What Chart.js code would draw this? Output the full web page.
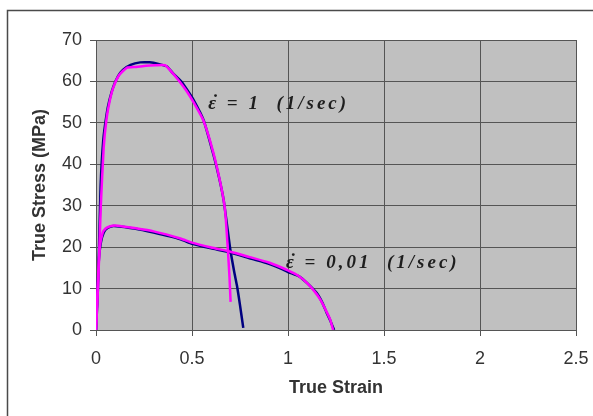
<!DOCTYPE html>
<html>
<head>
<meta charset="utf-8">
<script src="https://cdn.jsdelivr.net/npm/chart.js@4.4.1/dist/chart.umd.min.js"></script>
<style>
  html, body { margin: 0; padding: 0; background: #fff; }
  #wrap { width: 593px; height: 416px; }
</style>
</head>
<body>
<div id="wrap"><canvas id="stress-strain"></canvas></div>
<script>
// rate 1 (1/sec), measured (blue) and model (magenta)
var fastStrainBlue = [0, 0.01, 0.024, 0.038, 0.056, 0.07, 0.09, 0.115, 0.14, 0.18, 0.23, 0.28, 0.32, 0.37, 0.40, 0.44, 0.47, 0.51, 0.56, 0.61, 0.64, 0.665, 0.70, 0.72, 0.735, 0.75, 0.767];
var fastStressBlue = [0, 10, 34.6, 45.9, 52.3, 55.5, 58.7, 61.3, 62.8, 64, 64.6, 64.6, 64.3, 63.6, 62, 60.2, 58.3, 55.4, 50.7, 42.6, 37, 31.3, 19.3, 14, 10.5, 6, 0.5];
var fastStrainPink = [0, 0.012, 0.025, 0.04, 0.055, 0.07, 0.09, 0.12, 0.16, 0.21, 0.26, 0.31, 0.36, 0.39, 0.43, 0.47, 0.51, 0.56, 0.61, 0.65, 0.672, 0.686, 0.695, 0.701];
var fastStressPink = [0, 12, 30, 44, 51, 55, 58.5, 61.5, 63.3, 63.5, 63.8, 63.9, 63.9, 62.5, 60.3, 57.8, 54.8, 50.5, 43, 35, 29, 20, 13, 6.8];

// rate 0,01 (1/sec)
var slowStrainBlue = [0, 0.008, 0.015, 0.025, 0.04, 0.06, 0.09, 0.12, 0.2, 0.3, 0.44, 0.5, 0.6, 0.7, 0.8, 0.9, 0.96, 1.0, 1.06, 1.1, 1.15, 1.18, 1.2, 1.22, 1.24];
var slowStressBlue = [0, 10, 17, 21, 23.5, 24.6, 25.1, 25, 24.5, 23.5, 21.9, 20.8, 19.7, 18.7, 17.3, 16, 14.9, 14, 12.9, 11.3, 8.9, 6.5, 4.3, 2.3, 0];
var slowStrainPink = [0, 0.01, 0.02, 0.035, 0.05, 0.07, 0.1, 0.14, 0.2, 0.3, 0.44, 0.5, 0.6, 0.7, 0.8, 0.9, 0.96, 1.0, 1.05, 1.1, 1.14, 1.17, 1.2, 1.22, 1.235];
var slowStressPink = [0, 12, 20, 23.5, 24.5, 25, 25.2, 25, 24.6, 23.8, 22.1, 21.1, 19.9, 18.9, 17.6, 16.3, 15.2, 14.4, 13.2, 11.3, 9.2, 7.2, 4.5, 2.5, 0];

var xTicks = [0, 0.5, 1, 1.5, 2, 2.5];
var xTickText = ['0', '0.5', '1', '1.5', '2', '2.5'];
var yTicks = [0, 10, 20, 30, 40, 50, 60, 70];

var rateLabels = ['\u03B5 = 1  (1/sec)', '\u03B5 = 0,01  (1/sec)'];
var rateLabelAt = [[0.585, 54.5], [0.99, 16.2]];

function pts(xs, ys) {
	var out = [];
	for (var i in xs) out.push({x: xs[i], y: ys[i]});
	return out;
}

var AXIS_FONT = 'Liberation Sans, Arial, sans-serif';

var plotBack = {
	id: 'plotBack',
	beforeDraw: function(chart) {
		var c = chart.ctx, a = chart.chartArea;
		c.save();
		c.fillStyle = '#c0c0c0';
		c.fillRect(a.left, a.top, a.right - a.left, a.bottom - a.top);
		c.strokeStyle = '#4a4a4a';
		c.lineWidth = 1.5;
		c.strokeRect(7.5, 10.5, 800, 800);
		c.restore();
	},
	afterDatasetsDraw: function(chart) {
		var c = chart.ctx, sx = chart.scales.x, sy = chart.scales.y;
		c.save();
		c.font = 'italic bold 19px "Liberation Serif", "Times New Roman", serif';
		c.fillStyle = '#1e1e1e';
		c.textBaseline = 'middle';
		for (var i in rateLabels) {
			var px = sx.getPixelForValue(rateLabelAt[i][0]);
			var py = sy.getPixelForValue(rateLabelAt[i][1]);
			c.textAlign = 'left';
			c.letterSpacing = '3px';
			c.fillText(rateLabels[i], px, py);
			// dot over epsilon (strain rate)
			c.letterSpacing = '0px';
			c.textAlign = 'center';
			c.fillText('\u02D9', px + 6, py - 1);
		}
		c.restore();
	}
};

var line = function(data, color, order) {
	return {
		data: data,
		borderColor: color,
		backgroundColor: color,
		borderWidth: 2.5,
		showLine: true,
		pointRadius: 0,
		tension: 0.15,
		fill: false,
		order: order
	};
};

new Chart(document.getElementById('stress-strain'), {
	type: 'scatter',
	data: {
		datasets: [
			line(pts(fastStrainPink, fastStressPink), '#ff00ff', 0),
			line(pts(slowStrainPink, slowStressPink), '#ff00ff', 0),
			line(pts(fastStrainBlue, fastStressBlue), '#000080', 1),
			line(pts(slowStrainBlue, slowStressBlue), '#000080', 1)
		]
	},
	options: {
		responsive: true,
		maintainAspectRatio: false,
		animation: false,
		layout: { padding: { left: 12, top: 40, right: 17, bottom: 17 } },
		plugins: { legend: { display: false }, tooltip: { enabled: false } },
		scales: {
			x: {
				type: 'linear',
				min: xTicks[0],
				max: xTicks[xTicks.length - 1],
				afterBuildTicks: function(s) { s.ticks = xTicks.map(function(v) { return {value: v}; }); },
				afterFit: function(s) { s.height = 69; s.paddingLeft = 0; s.paddingRight = 0; },
				grid: { color: '#555', tickColor: '#555', tickLength: 6, lineWidth: 1 },
				border: { color: '#555', width: 1 },
				ticks: {
					color: '#333', padding: 12, maxRotation: 0,
					font: { family: AXIS_FONT, size: 18 },
					callback: function(v, i) { return xTickText[i]; }
				},
				title: { display: true, text: 'True Strain', color: '#333', padding: { top: 0, bottom: 0 }, font: { family: AXIS_FONT, size: 18, weight: 'bold' } }
			},
			y: {
				type: 'linear',
				min: yTicks[0],
				max: yTicks[yTicks.length - 1],
				afterBuildTicks: function(s) { s.ticks = yTicks.map(function(v) { return {value: v}; }); },
				afterFit: function(s) { s.width = 84; s.paddingTop = 0; s.paddingBottom = 0; },
				grid: { color: '#555', tickColor: '#555', tickLength: 6, lineWidth: 1 },
				border: { color: '#555', width: 1 },
				ticks: { color: '#333', padding: 8, font: { family: AXIS_FONT, size: 18 } },
				title: { display: true, text: 'True Stress (MPa)', color: '#333', padding: { top: 17, bottom: 0 }, font: { family: AXIS_FONT, size: 18, weight: 'bold' } }
			}
		}
	},
	plugins: [plotBack]
});
</script>
</body>
</html>
